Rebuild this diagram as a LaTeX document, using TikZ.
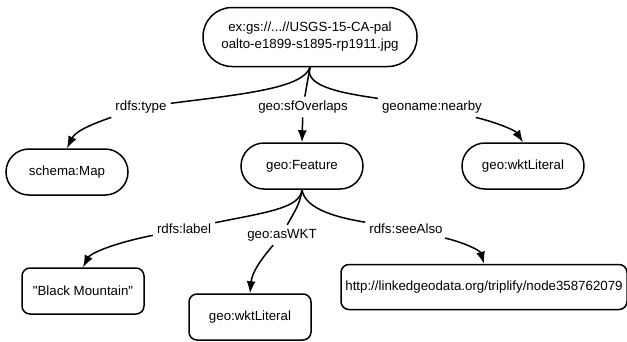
\documentclass[tikz,border=0pt]{standalone}
\usepackage{fontspec}
\setmainfont{Liberation Sans}
\usepackage{tikz}
\usetikzlibrary{calc,arrows.meta}

\tikzset{
  term/.style={draw,line width=1.5pt,rounded corners=23pt,minimum width=122pt,minimum height=46pt,inner sep=0pt},
  lit/.style={draw,line width=1.5pt,rounded corners=8pt,minimum width=122pt,minimum height=46pt,inner sep=0pt},
  prop/.style={inner sep=4pt},
  rel/.style={line width=1.5pt},
  relto/.style={line width=1.5pt,-{Latex[length=12pt,width=9pt]}}
}

\begin{document}
\begin{tikzpicture}[x=1pt,y=-1pt,font=\fontsize{13.3}{17}\selectfont]
              \useasboundingbox(0,0)rectangle(627,341);
              % resources
              \node[term,minimum width=214pt,minimum height=59pt,rounded corners=29pt,align=center](img)at(310,37){ex:gs://...//USGS-15-CA-pal\\oalto-e1899-s1895-rp1911.jpg};
              \node[term](map)at(67,172){schema:Map};
              \node[term](feat)at(302,166){geo:Feature};
              \node[term](wkta)at(523,166){geo:wktLiteral};
              \node[lit](name)at(83,291){\textquotedbl Black Mountain\textquotedbl};
              \node[lit](wktb)at(250,317){geo:wktLiteral};
              \node[lit,minimum width=286pt,minimum height=45pt](lgd)at(484,287){http://linkedgeodata.org/triplify/node358762079};
              % properties
              \node[prop](ptype)at(141,107){rdfs:type};
              \node[prop](psf)at(303,107){geo:sfOverlaps};
              \node[prop](pnear)at(432,107){geoname:nearby};
              \node[prop](plabel)at(184,229){rdfs:label};
              \node[prop](pwkt)at(282,235){geo:asWKT};
              \node[prop](psee)at(406,229){rdfs:seeAlso};
              % edges
              \draw[rel](img.south)..controls(303,88)and(245,94)..(ptype);
              \draw[relto](ptype)..controls(98,122)and(76,130)..(map.north);
              \draw[rel](img.south)--(psf);
              \draw[relto](psf)--(feat.north);
              \draw[rel](img.south)..controls(303,88)and(350,94)..(pnear);
              \draw[relto](pnear)..controls(495,122)and(515,130)..(wkta.north);
              \draw[rel](feat.south)..controls(300,208)and(268,212)..(plabel);
              \draw[relto](plabel)..controls(110,244)and(90,254)..(name.north);
              \draw[rel](feat.south)..controls(300,205)and(294,212)..(pwkt);
              \draw[relto](pwkt)..controls(262,258)and(252,272)..(wktb.north);
              \draw[rel](feat.south)..controls(305,210)and(340,218)..(psee);
              \draw[relto](psee)..controls(462,242)and(480,250)..(lgd.north);
            \end{tikzpicture}
\end{document}
